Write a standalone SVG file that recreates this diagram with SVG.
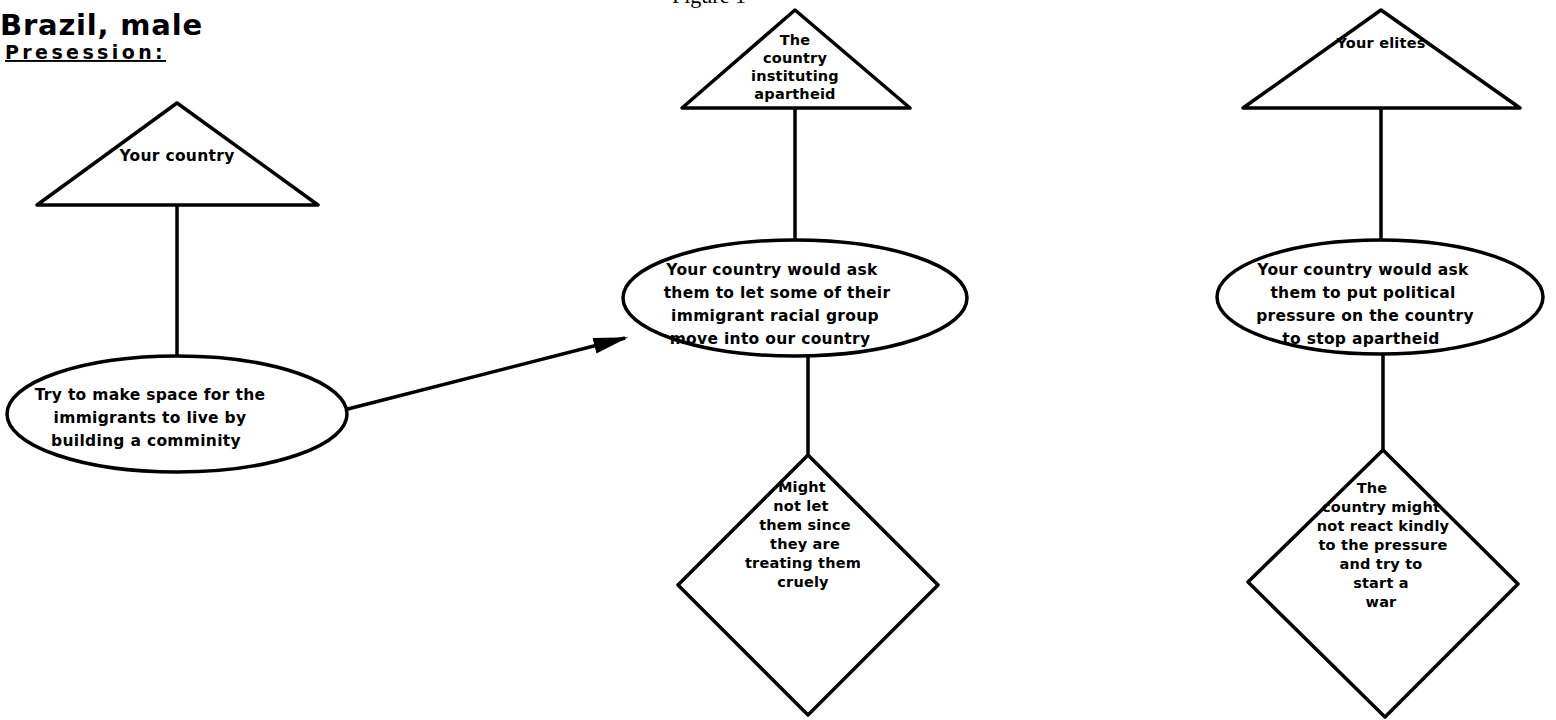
<svg xmlns="http://www.w3.org/2000/svg" width="1556" height="720" viewBox="0 0 1556 720">
  <defs>
    <marker id="arrowhead" viewBox="0 0 10 10" refX="9" refY="5" markerWidth="10" markerHeight="4.6" markerUnits="strokeWidth" orient="auto" preserveAspectRatio="none">
      <path d="M0,0 L10,5 L0,10 z" fill="#000"/>
    </marker>
    <style>
      .shape { fill: #fff; stroke: #000; stroke-width: 3.5; stroke-linejoin: round; }
      .edge { fill: none; stroke: #000; stroke-width: 3.5; }
      .lbl { font-family: "DejaVu Sans", "Liberation Sans", sans-serif; font-weight: bold; font-size: 15.5px; letter-spacing: 0.3px; fill: #000; text-anchor: middle; }
      .small { font-size: 14.5px; letter-spacing: 0.2px; }
      .title { font-family: "DejaVu Sans", "Liberation Sans", sans-serif; font-weight: bold; fill: #000; }
      .caption { font-family: "Liberation Serif", serif; font-size: 22px; fill: #000; }
    </style>
  </defs>
  <rect width="1556" height="720" fill="#fff"/>

  <!-- header -->
  <text class="caption" x="672" y="3">Figure 1</text>
  <text class="title" x="0" y="35" font-size="29" letter-spacing="0.8">Brazil, male</text>
  <text class="title" x="5" y="59" font-size="19" letter-spacing="3.4" text-decoration="underline">Presession:</text>

  <!-- connectors -->
  <g id="connectors">
    <line class="edge" x1="177" y1="205" x2="177" y2="357"/>
    <line class="edge" x1="340" y1="411" x2="625" y2="338" marker-end="url(#arrowhead)"/>
    <line class="edge" x1="795" y1="108" x2="795" y2="240"/>
    <line class="edge" x1="808" y1="355" x2="808" y2="455"/>
    <line class="edge" x1="1381" y1="108" x2="1381" y2="240"/>
    <line class="edge" x1="1383" y1="354" x2="1383" y2="450"/>
  </g>

  <!-- left column -->
  <g id="node-your-country">
    <polygon class="shape" points="177,103 318,205 37,205"/>
    <text class="lbl" x="177" y="161">Your country</text>
  </g>
  <g id="node-make-space">
    <ellipse class="shape" cx="177" cy="414" rx="170" ry="58"/>
    <text class="lbl" x="150" y="400">Try to make space for the</text>
    <text class="lbl" x="150" y="423">immigrants to live by</text>
    <text class="lbl" x="146" y="446">building a comminity</text>
  </g>

  <!-- middle column -->
  <g id="node-apartheid-country">
    <polygon class="shape" points="795,10 910,108 682,108"/>
    <text class="lbl small" x="795" y="45">The</text>
    <text class="lbl small" x="795" y="63">country</text>
    <text class="lbl small" x="795" y="81">instituting</text>
    <text class="lbl small" x="795" y="99">apartheid</text>
  </g>
  <g id="node-ask-immigrants">
    <ellipse class="shape" cx="795" cy="298" rx="172" ry="58"/>
    <text class="lbl" x="772" y="275">Your country would ask</text>
    <text class="lbl" x="777" y="298">them to let some of their</text>
    <text class="lbl" x="775" y="321">immigrant racial group</text>
    <text class="lbl" x="770" y="344">move into our country</text>
  </g>
  <g id="node-might-not">
    <polygon class="shape" points="808,455 938,585 808,715 678,585"/>
    <text class="lbl small" x="802" y="492">Might</text>
    <text class="lbl small" x="801" y="511">not let</text>
    <text class="lbl small" x="805" y="530">them since</text>
    <text class="lbl small" x="805" y="549">they are</text>
    <text class="lbl small" x="803" y="568">treating them</text>
    <text class="lbl small" x="803" y="587">cruely</text>
  </g>

  <!-- right column -->
  <g id="node-your-elites">
    <polygon class="shape" points="1381,10 1520,108 1243,108"/>
    <text class="lbl small" x="1381" y="48">Your elites</text>
  </g>
  <g id="node-political-pressure">
    <ellipse class="shape" cx="1380" cy="297" rx="163" ry="57"/>
    <text class="lbl" x="1363" y="275">Your country would ask</text>
    <text class="lbl" x="1363" y="298">them to put political</text>
    <text class="lbl" x="1365" y="321">pressure on the country</text>
    <text class="lbl" x="1361" y="344">to stop apartheid</text>
  </g>
  <g id="node-start-war">
    <polygon class="shape" points="1383,450 1518,584 1385,717 1248,582"/>
    <text class="lbl small" x="1372" y="493">The</text>
    <text class="lbl small" x="1381" y="512">country might</text>
    <text class="lbl small" x="1383" y="531">not react kindly</text>
    <text class="lbl small" x="1383" y="550">to the pressure</text>
    <text class="lbl small" x="1381" y="569">and try to</text>
    <text class="lbl small" x="1381" y="588">start a</text>
    <text class="lbl small" x="1381" y="607">war</text>
  </g>
</svg>
